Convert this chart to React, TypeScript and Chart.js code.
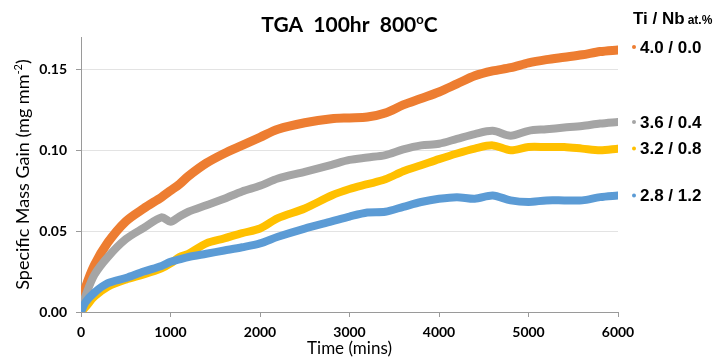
import React, { useEffect, useRef } from "react";
import { Chart, registerables } from "chart.js";

Chart.register(...registerables);

const TIMES = [0, 50, 150, 300, 500, 700, 900, 1000, 1100, 1200, 1400, 1600, 1800, 2000, 2200, 2500, 2800, 3000, 3200, 3400, 3600, 3800, 4000, 4200, 4400, 4600, 4800, 5000, 5200, 5400, 5600, 5800, 6000];

const TI40_NB00 = [0.004, 0.015, 0.029, 0.043, 0.056, 0.064, 0.071, 0.075, 0.079, 0.084, 0.092, 0.098, 0.103, 0.108, 0.113, 0.117, 0.1195, 0.12, 0.1205, 0.123, 0.128, 0.132, 0.136, 0.141, 0.146, 0.149, 0.151, 0.154, 0.156, 0.1575, 0.159, 0.161, 0.162];
const TI36_NB04 = [0.002, 0.01, 0.023, 0.034, 0.045, 0.052, 0.0585, 0.0558, 0.059, 0.062, 0.066, 0.07, 0.0745, 0.078, 0.0825, 0.0866, 0.091, 0.094, 0.0955, 0.097, 0.1005, 0.103, 0.104, 0.107, 0.11, 0.112, 0.109, 0.112, 0.113, 0.114, 0.115, 0.1165, 0.1175];
const TI32_NB08 = [0.0, 0.003, 0.0095, 0.0156, 0.02, 0.0232, 0.027, 0.03, 0.034, 0.036, 0.0424, 0.0455, 0.0488, 0.0516, 0.058, 0.064, 0.072, 0.076, 0.079, 0.082, 0.087, 0.0907, 0.0945, 0.098, 0.101, 0.103, 0.1, 0.102, 0.102, 0.102, 0.101, 0.1, 0.101];
const TI28_NB12 = [0.0, 0.006, 0.012, 0.0178, 0.021, 0.025, 0.0285, 0.031, 0.0325, 0.034, 0.036, 0.038, 0.04, 0.0424, 0.0465, 0.0516, 0.056, 0.059, 0.0615, 0.062, 0.065, 0.068, 0.07, 0.071, 0.07, 0.072, 0.069, 0.068, 0.069, 0.069, 0.069, 0.071, 0.072];

const SERIES_LABELS = ["4.0 / 0.0", "3.6 / 0.4", "3.2 / 0.8", "2.8 / 1.2"];
const SERIES_VALUES = [TI40_NB00, TI36_NB04, TI32_NB08, TI28_NB12];
const SERIES_COLORS = ["#ED7D31", "#A5A5A5", "#FFC000", "#5B9BD5"];

const X_TICKS = [0, 1000, 2000, 3000, 4000, 5000, 6000];
const Y_TICKS = [0, 0.05, 0.1, 0.15];

function drawParts(ctx: CanvasRenderingContext2D, parts: { t: string; font: string; dy: number }[], cx: number, cy: number) {
  let total = 0;
  for (const p of parts) {
    ctx.font = p.font;
    total += ctx.measureText(p.t).width;
  }
  let x = cx - total / 2;
  for (const p of parts) {
    ctx.font = p.font;
    ctx.fillText(p.t, x, cy + p.dy);
    x += ctx.measureText(p.t).width;
  }
}

const overlay = {
  id: "overlay",
  afterDraw(chart: any) {
    const ctx: CanvasRenderingContext2D = chart.ctx;
    const area = chart.chartArea;
    const yScale = chart.scales.y;
    ctx.save();
    ctx.fillStyle = "#000";
    ctx.textBaseline = "alphabetic";
    ctx.textAlign = "left";
    const cx = (area.left + area.right) / 2;
    // Title
    drawParts(ctx, [
      { t: "TGA  100hr  800", font: "bold 21px Lato", dy: 0 },
      { t: "o", font: "bold 13px Lato", dy: -8 },
      { t: "C", font: "bold 21px Lato", dy: 0 },
    ], cx, 32);
    // X title
    drawParts(ctx, [{ t: "Time (mins)", font: "17px Lato", dy: 0 }], cx, 354);
    // Y title
    ctx.save();
    ctx.translate(29, (area.top + area.bottom) / 2);
    ctx.rotate(-Math.PI / 2);
    drawParts(ctx, [
      { t: "Specific Mass Gain (mg mm", font: "18px Lato", dy: 0 },
      { t: "-2", font: "11px Lato", dy: -7 },
      { t: ")", font: "18px Lato", dy: 0 },
    ], 0, 0);
    ctx.restore();
    // Legend header
    ctx.font = "bold 17px 'Liberation Sans'";
    ctx.fillText("Ti / Nb", 633, 24);
    const w = ctx.measureText("Ti / Nb").width;
    ctx.font = "bold 12px 'Liberation Sans'";
    ctx.fillText("at.%", 633 + w + 3, 24);
    // Legend entries at line ends
    ctx.textBaseline = "middle";
    SERIES_LABELS.forEach((lab, i) => {
      const vals = SERIES_VALUES[i];
      const y = yScale.getPixelForValue(vals[vals.length - 1]) + (i === 0 ? -3 : 0);
      ctx.fillStyle = SERIES_COLORS[i];
      ctx.beginPath();
      ctx.arc(634, y, 2, 0, Math.PI * 2);
      ctx.fill();
      ctx.fillStyle = "#000";
      ctx.font = "bold 17px 'Liberation Sans'";
      ctx.fillText(lab, 640, y + 1);
    });
    ctx.restore();
  },
};

export default function App() {
  const ref = useRef<HTMLCanvasElement>(null);
  useEffect(() => {
    if (!ref.current) return;
    const datasets = SERIES_LABELS.map((lab, i) => ({
      label: lab,
      data: TIMES.map((t, k) => ({ x: t, y: SERIES_VALUES[i][k] })),
      borderColor: SERIES_COLORS[i],
      backgroundColor: SERIES_COLORS[i],
      borderWidth: i === 0 ? 9 : 8,
      pointRadius: 0,
      tension: 0.3,
      borderCapStyle: "round" as const,
      borderJoinStyle: "round" as const,
      order: 3 - i,
    }));
    const chart = new Chart(ref.current, {
      type: "line",
      data: { datasets },
      plugins: [overlay],
      options: {
        animation: false,
        responsive: false,
        layout: { padding: { top: 37, right: 108, left: 0, bottom: 0 } },
        plugins: { legend: { display: false }, title: { display: false }, tooltip: { enabled: false } },
        scales: {
          x: {
            type: "linear",
            min: 0,
            max: 6000,
            afterFit: (s: any) => { s.height = 50; },
            afterBuildTicks: (s: any) => { s.ticks = X_TICKS.map((v) => ({ value: v })); },
            grid: { drawOnChartArea: false, drawTicks: true, tickLength: 5, tickColor: "#9a9a9a" },
            border: { color: "#9a9a9a", width: 1 },
            ticks: { color: "#000", font: { family: "Lato", size: 14, weight: "bold" }, padding: 7, maxRotation: 0, callback: (v: any) => String(v) },
          },
          y: {
            type: "linear",
            min: 0,
            max: 0.17,
            afterFit: (s: any) => { s.width = 81; },
            afterBuildTicks: (s: any) => { s.ticks = Y_TICKS.map((v) => ({ value: v })); },
            grid: { color: "#e3e3e3", drawTicks: true, tickLength: 5, tickColor: "#9a9a9a" },
            border: { color: "#9a9a9a", width: 1 },
            ticks: { color: "#000", font: { family: "Lato", size: 14, weight: "bold" }, padding: 9, callback: (v: any) => Number(v).toFixed(2) },
          },
        },
      },
    });
    return () => chart.destroy();
  }, []);
  return (
    <div style={{ position: "absolute", left: 0, top: 0, width: 726, height: 362, background: "#fff" }}>
      <canvas ref={ref} width={726} height={362} />
    </div>
  );
}
